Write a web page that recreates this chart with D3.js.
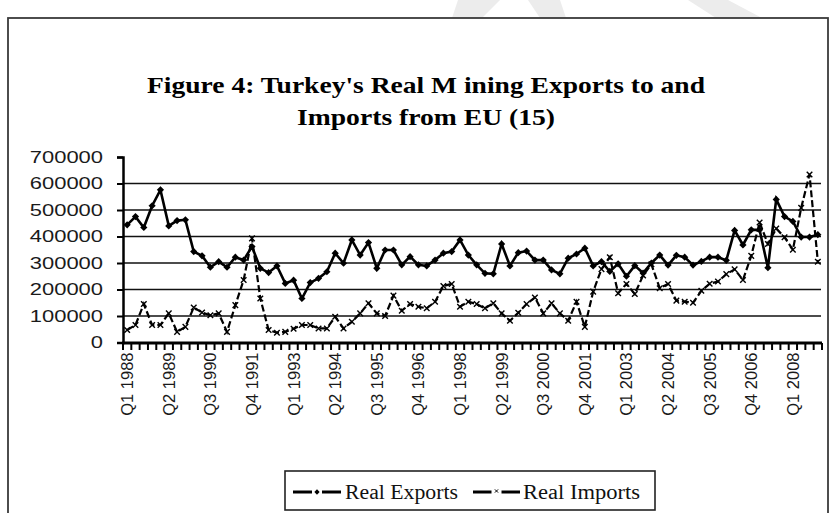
<!DOCTYPE html>
<html><head><meta charset="utf-8">
<script src="https://cdn.jsdelivr.net/npm/d3@7"></script>
<style>body{margin:0;background:#fff}svg{display:block}</style>
</head><body>
<svg id="chart" width="831" height="513"></svg>
<script>
// ---- data ----
const years = [1988,1989,1990,1991,1992,1993,1994,1995,1996,1997,1998,1999,2000,2001,2002,2003,2004,2005,2006,2007,2008];
const quarters = ["Q1","Q2","Q3","Q4"];
const categories = [];
years.forEach(y => quarters.forEach(q => categories.push(q + " " + y)));

const tickLabels = ["Q1 1988","Q2 1989","Q3 1990","Q4 1991","Q1 1993","Q2 1994","Q3 1995","Q4 1996","Q1 1998","Q2 1999","Q3 2000","Q4 2001","Q1 2003","Q2 2004","Q3 2005","Q4 2006","Q1 2008"];

const realExports = [
 444000,475000,434000,516000,576000,440000,460000,463000,343000,327000,
 284000,305000,284000,322000,311000,362000,280000,264000,289000,223000,
 235000,166000,226000,242000,267000,337000,299000,387000,330000,377000,
 280000,349000,349000,293000,324000,293000,289000,311000,337000,343000,
 387000,330000,293000,261000,259000,372000,289000,339000,345000,311000,
 311000,274000,259000,318000,334000,356000,289000,305000,268000,297000,
 250000,290000,262000,300000,330000,292000,329000,322000,292000,306000,
 322000,322000,310000,423000,368000,425000,425000,282000,540000,475000,
 457000,398000,398000,407000];

const realImports = [
 47000,66000,145000,66000,66000,110000,40000,59000,132000,113000,
 103000,110000,40000,141000,236000,393000,166000,47000,37000,40000,
 52000,66000,66000,53000,53000,97000,53000,78000,110000,148000,
 110000,100000,177000,120000,145000,135000,129000,154000,213000,221000,
 135000,154000,145000,129000,148000,110000,82000,112000,145000,170000,
 110000,148000,110000,82000,154000,59000,192000,277000,322000,186000,
 221000,183000,253000,295000,205000,221000,158000,154000,150000,195000,
 222000,230000,258000,276000,236000,327000,453000,372000,430000,397000,
 350000,508000,634000,305000];

const yTicks = [0,100000,200000,300000,400000,500000,600000,700000];
const titleLines = ["Figure 4: Turkey's Real M ining Exports to and", "Imports from EU (15)"];
const seriesNames = ["Real Exports", "Real Imports"];

// ---- drawing ----
const svg = d3.select("#chart");
svg.append("rect").attr("width",831).attr("height",513).attr("fill","#fff");

// faint watermark bands at top
const wm = [[[458,0],[500,0],[482,18],[452,18]],[[528,0],[560,0],[566,18],[540,18]],[[688,0],[728,0],[762,18],[716,18]]];
svg.selectAll("polygon.wm").data(wm).enter().append("polygon")
  .attr("points", d => d.map(p => p.join(",")).join(" "))
  .attr("fill","#ececec");

// outer frame
svg.append("rect").attr("x",8).attr("y",18).attr("width",820).attr("height",520)
  .attr("fill","#fff").attr("stroke","#3a3a3a").attr("stroke-width",1.8);

const x = d3.scaleBand().domain(categories).range([123, 822]).paddingInner(0).paddingOuter(0);
const y = d3.scaleLinear().domain([0, 700000]).range([342.5, 157]);
const cx = d => x(d) + x.bandwidth()/2;

// title
svg.selectAll("text.title").data(titleLines).enter().append("text")
  .attr("x", 426).attr("y", (d,i) => 93 + i*32)
  .attr("text-anchor","middle")
  .attr("font-family","'Liberation Serif','Times New Roman',serif")
  .attr("font-weight","bold").attr("font-size",24)
  .attr("textLength",(d,i)=> i===0 ? 558 : 258).attr("lengthAdjust","spacingAndGlyphs")
  .attr("fill","#000").text(d => d);

// gridlines
svg.append("g").selectAll("line").data(yTicks.filter(t => t>0 && t<700000)).enter().append("line")
  .attr("x1",123).attr("x2",821).attr("y1",d=>y(d)).attr("y2",d=>y(d))
  .attr("stroke","#111").attr("stroke-width",1.5);

// y axis
const yAxis = d3.axisLeft(y).tickValues(yTicks).tickSize(6).tickFormat(d3.format("d"));
const gy = svg.append("g").attr("transform","translate(123,0)").call(yAxis);
gy.select(".domain").attr("stroke","#000").attr("stroke-width",2.5);
gy.selectAll(".tick line").attr("stroke","#000").attr("stroke-width",2);
gy.selectAll(".tick text").attr("x",-20)
  .attr("font-family","'Liberation Sans',Arial,sans-serif").attr("font-size",17).attr("fill","#1a1a1a")
  .each(function(d){ const s=String(d); d3.select(this).attr("textLength", s.length*12.2).attr("lengthAdjust","spacingAndGlyphs"); });

// x axis
const xAxis = d3.axisBottom(x).tickSize(0).tickFormat(d => tickLabels.includes(d) ? d : "");
const gx = svg.append("g").attr("transform","translate(0,342.5)").call(xAxis);
gx.select(".domain").remove();
gx.selectAll(".tick text")
  .attr("transform","rotate(-90)").attr("text-anchor","end")
  .attr("x",-10).attr("y",0).attr("dy","0.36em")
  .attr("font-family","'Liberation Sans',Arial,sans-serif").attr("font-size",16.5).attr("fill","#1a1a1a");
svg.append("line").attr("x1",122).attr("x2",822).attr("y1",343).attr("y2",343)
  .attr("stroke","#000").attr("stroke-width",3);
svg.append("g").selectAll("line").data(d3.range(categories.length+1)).enter().append("line")
  .attr("x1",i => 123 + i*x.bandwidth()).attr("x2",i => 123 + i*x.bandwidth())
  .attr("y1",343).attr("y2",350).attr("stroke","#000").attr("stroke-width",2);

// lines
const line = vals => d3.line().x((d,i)=>cx(categories[i])).y(d=>y(d))(vals);
svg.append("path").attr("d", line(realImports)).attr("fill","none")
  .attr("stroke","#000").attr("stroke-width",2.2).attr("stroke-dasharray","7,3");
svg.append("path").attr("d", line(realExports)).attr("fill","none")
  .attr("stroke","#000").attr("stroke-width",2.6);

// markers
const xSym = d3.symbol(d3.symbolX, 22);
svg.append("g").selectAll("path").data(realImports).enter().append("path")
  .attr("d", xSym).attr("transform",(d,i)=>`translate(${cx(categories[i])},${y(d)})`)
  .attr("fill","none").attr("stroke","#000").attr("stroke-width",1.4);
const dSym = d3.symbol(d3.symbolSquare, 26);
svg.append("g").selectAll("path").data(realExports).enter().append("path")
  .attr("d", dSym).attr("transform",(d,i)=>`translate(${cx(categories[i])},${y(d)}) rotate(45)`)
  .attr("fill","#000");

// legend
const lg = svg.append("g");
lg.append("rect").attr("x",285).attr("y",471).attr("width",370).attr("height",39)
  .attr("fill","#fff").attr("stroke","#222").attr("stroke-width",1.6);
const legendItems = [
  {name: seriesNames[0], x0: 293, x1: 341, tx: 345, tl: 113},
  {name: seriesNames[1], x0: 473, x1: 520, tx: 523, tl: 117}
];
legendItems.forEach((it, k) => {
  const mid = (it.x0 + it.x1)/2;
  lg.append("line").attr("x1",it.x0).attr("x2",mid-5).attr("y1",492).attr("y2",492).attr("stroke","#000").attr("stroke-width",3);
  lg.append("line").attr("x1",mid+5).attr("x2",it.x1).attr("y1",492).attr("y2",492).attr("stroke","#000").attr("stroke-width",3);
  if (k===0) lg.append("path").attr("d", d3.symbol(d3.symbolSquare, 14)).attr("transform",`translate(${mid},492) rotate(45)`).attr("fill","#000");
  else lg.append("path").attr("d", d3.symbol(d3.symbolX, 8)).attr("transform",`translate(${mid},491)`).attr("fill","none").attr("stroke","#000").attr("stroke-width",1);
  lg.append("text").attr("x",it.tx).attr("y",499)
    .attr("font-family","'Liberation Serif','Times New Roman',serif").attr("font-size",20)
    .attr("textLength",it.tl).attr("lengthAdjust","spacingAndGlyphs").attr("fill","#111").text(it.name);
});
</script>
</body></html>
